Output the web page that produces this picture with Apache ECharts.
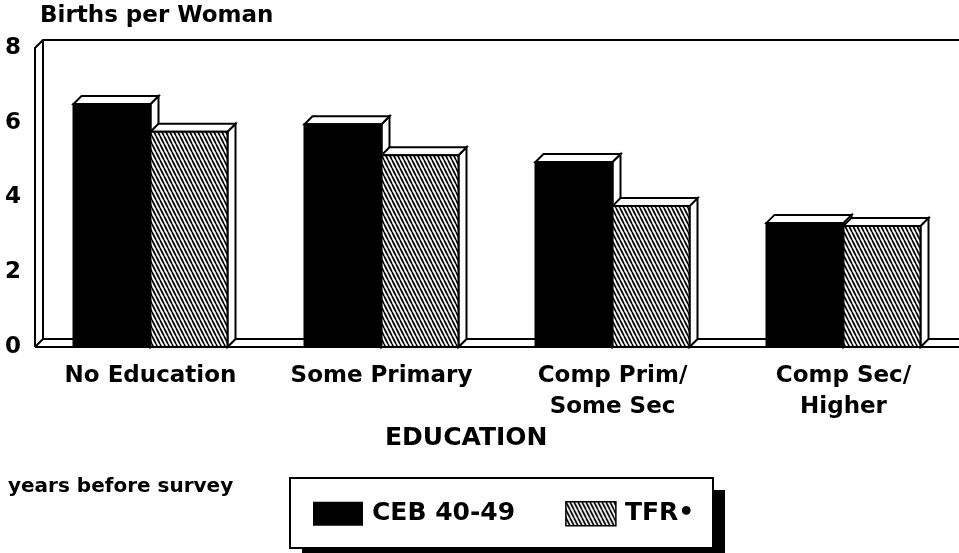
<!DOCTYPE html>
<html>
<head>
<meta charset="utf-8">
<script src="https://cdn.jsdelivr.net/npm/echarts@6/dist/echarts.min.js"></script>
<style>
html, body { margin: 0; padding: 0; background: #fff; }
#chart { width: 959px; height: 553px; }
</style>
</head>
<body>
<div id="chart"></div>
<script>
// data
var categories = ['No Education', 'Some Primary', 'Comp Prim/\nSome Sec', 'Comp Sec/\nHigher'];
var ceb = [6.5, 5.96, 4.95, 3.32];
var tfr = [5.76, 5.13, 3.77, 3.24];
var yTicks = [0, 2, 4, 6, 8];
var seriesNames = ['CEB 40-49', 'TFR\u2022'];

var FONT = "'DejaVu Sans', sans-serif";
var DEPTH = 8;

// diagonal hatching tile
function makeHatch() {
    var c = document.createElement('canvas');
    c.width = 4;
    c.height = 8;
    var ctx = c.getContext('2d');
    ctx.fillStyle = '#fff';
    ctx.fillRect(0, 0, 4, 8);
    ctx.strokeStyle = '#000';
    ctx.lineWidth = 1.7;
    [-4, 0, 4].forEach(function (k) {
        ctx.beginPath();
        ctx.moveTo(k, 0);
        ctx.lineTo(k + 4, 8);
        ctx.stroke();
    });
    return { image: c, repeat: 'repeat' };
}
var hatch = makeHatch();

function barRender(pos, fill) {
    return function (params, api) {
        var idx = api.value(0);
        var base = api.coord([idx, 0]);
        var top = api.coord([idx, api.value(1)]);
        var w = api.size([1, 0])[0] / 3;
        var l = base[0] - w + pos * w;
        var r = l + w;
        var t = top[1], b = base[1], d = DEPTH;
        var edge = { fill: '#fff', stroke: '#000', lineWidth: 2 };
        return {
            type: 'group',
            children: [
                { type: 'polygon', shape: { points: [[r, t], [r + d, t - d], [r + d, b - d], [r, b]] }, style: edge },
                { type: 'polygon', shape: { points: [[l, t], [l + d, t - d], [r + d, t - d], [r, t]] }, style: edge },
                { type: 'rect', shape: { x: l, y: t, width: w, height: b - t }, style: { fill: fill, stroke: '#000', lineWidth: 2 } }
            ]
        };
    };
}

function frameRender(params, api) {
    var cs = params.coordSys;
    var x0 = cs.x, y0 = cs.y, x1 = cs.x + cs.width, y1 = cs.y + cs.height, d = DEPTH;
    var st = { stroke: '#000', lineWidth: 2, fill: null };
    return {
        type: 'group',
        children: [
            { type: 'polyline', shape: { points: [[x0, y1], [x0, y0], [x0 + d, y0 - d], [x1, y0 - d]] }, style: st },
            { type: 'line', shape: { x1: x0 + d, y1: y0 - d, x2: x0 + d, y2: y1 - d }, style: st },
            { type: 'line', shape: { x1: x0 + d, y1: y1 - d, x2: x1, y2: y1 - d }, style: st },
            { type: 'line', shape: { x1: x0, y1: y1, x2: x0 + d, y2: y1 - d }, style: st },
            { type: 'line', shape: { x1: x0, y1: y1, x2: x1, y2: y1 }, style: st }
        ]
    };
}

var chart = echarts.init(document.getElementById('chart'));

chart.setOption({
    animation: false,
    backgroundColor: '#fff',
    grid: { left: 35, right: 0, top: 48, bottom: 206 },
    xAxis: {
        type: 'category',
        data: categories,
        axisLine: { show: false },
        axisTick: { show: false },
        axisLabel: { color: '#000', fontFamily: FONT, fontWeight: 'bold', fontSize: 23, lineHeight: 31, margin: 14, interval: 0 }
    },
    yAxis: {
        type: 'value',
        min: yTicks[0],
        max: yTicks[yTicks.length - 1],
        interval: yTicks[1] - yTicks[0],
        splitLine: { show: false },
        axisLine: { show: false },
        axisTick: { show: false },
        axisLabel: { color: '#000', fontFamily: FONT, fontWeight: 'bold', fontSize: 23, margin: 14, padding: [8, 0, 0, 0] }
    },
    legend: {
        left: 313, top: 501, padding: 0,
        itemWidth: 50, itemHeight: 24, itemGap: 50,
        selectedMode: false,
        textStyle: { color: '#000', fontFamily: FONT, fontWeight: 'bold', fontSize: 25, padding: [0, 0, 0, 4] },
        data: [
            { name: seriesNames[0], icon: 'rect', itemStyle: { color: '#000' } },
            { name: seriesNames[1], icon: 'rect', itemStyle: { color: hatch, borderColor: '#000', borderWidth: 1.5 } }
        ]
    },
    graphic: [
        { type: 'rect', z: 1, shape: { x: 302, y: 490, width: 423, height: 70 }, style: { fill: '#000' } },
        { type: 'rect', z: 2, shape: { x: 290, y: 478, width: 423, height: 70 }, style: { fill: '#fff', stroke: '#000', lineWidth: 2 } },
        { type: 'text', left: 40, top: 5, style: { text: 'Births per Woman', fill: '#000', font: 'bold 23px ' + FONT } },
        { type: 'text', left: 385, top: 426, style: { text: 'EDUCATION', fill: '#000', font: 'bold 25px ' + FONT } },
        { type: 'text', left: 8, top: 477, style: { text: 'years before survey', fill: '#000', font: 'bold 20px ' + FONT } }
    ],
    series: [
        {
            type: 'custom', name: 'frame', z: 1, silent: true,
            renderItem: frameRender,
            data: [[0, 0]]
        },
        {
            type: 'custom', name: seriesNames[0], z: 2,
            renderItem: barRender(0, '#000'),
            itemStyle: { color: '#000' },
            encode: { x: 0, y: 1 },
            data: ceb.map(function (v, i) { return [i, v]; })
        },
        {
            type: 'custom', name: seriesNames[1], z: 3,
            renderItem: barRender(1, hatch),
            itemStyle: { color: hatch },
            encode: { x: 0, y: 1 },
            data: tfr.map(function (v, i) { return [i, v]; })
        }
    ]
});
</script>
</body>
</html>
